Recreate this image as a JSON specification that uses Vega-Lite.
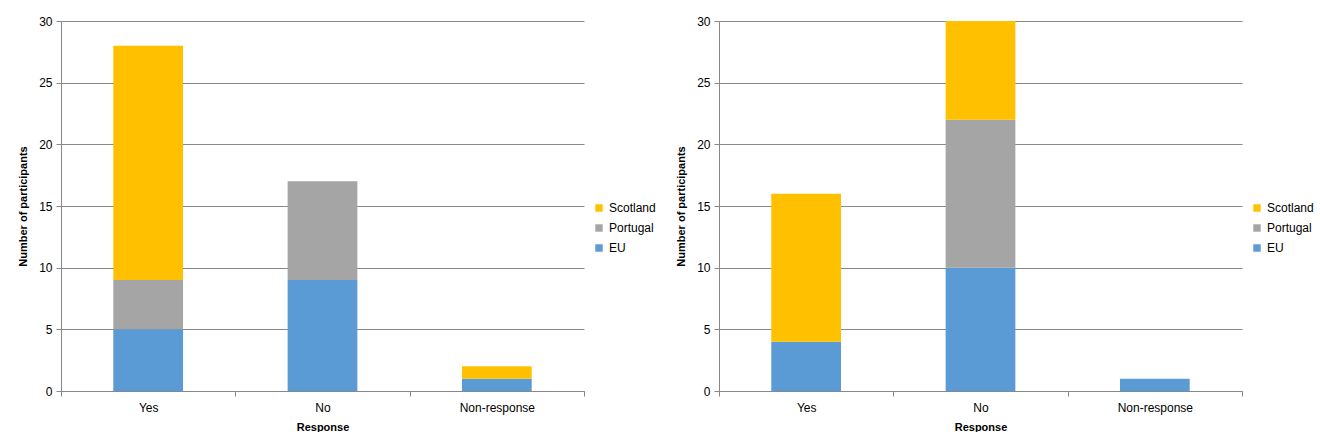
{
  "$schema": "https://vega.github.io/schema/vega-lite/v6.json",
  "padding": {"left": 17, "top": 15, "right": 0, "bottom": 0},
  "background": "white",
  "datasets": {
    "left": [
      {"response": "Yes", "group": "EU", "count": 5},
      {"response": "Yes", "group": "Portugal", "count": 4},
      {"response": "Yes", "group": "Scotland", "count": 19},
      {"response": "No", "group": "EU", "count": 9},
      {"response": "No", "group": "Portugal", "count": 8},
      {"response": "No", "group": "Scotland", "count": 0},
      {"response": "Non-response", "group": "EU", "count": 1},
      {"response": "Non-response", "group": "Portugal", "count": 0},
      {"response": "Non-response", "group": "Scotland", "count": 1}
    ],
    "right": [
      {"response": "Yes", "group": "EU", "count": 4},
      {"response": "Yes", "group": "Portugal", "count": 0},
      {"response": "Yes", "group": "Scotland", "count": 12},
      {"response": "No", "group": "EU", "count": 10},
      {"response": "No", "group": "Portugal", "count": 12},
      {"response": "No", "group": "Scotland", "count": 8},
      {"response": "Non-response", "group": "EU", "count": 1},
      {"response": "Non-response", "group": "Portugal", "count": 0},
      {"response": "Non-response", "group": "Scotland", "count": 0}
    ]
  },
  "spacing": 19,
  "resolve": {"scale": {"color": "independent"}, "legend": {"color": "independent"}},
  "config": {
    "font": "Liberation Sans",
    "view": {"stroke": null},
    "axis": {
      "labelFont": "Liberation Sans",
      "labelFontSize": 12,
      "labelColor": "#000000",
      "titleFont": "Liberation Sans",
      "titleFontSize": 11,
      "titleFontWeight": "bold",
      "titleColor": "#000000",
      "domainColor": "#888888",
      "tickColor": "#888888",
      "gridColor": "#888888",
      "tickSize": 5,
      "labelPadding": 4
    },
    "legend": {
      "labelFont": "Liberation Sans",
      "labelFontSize": 12,
      "labelColor": "#000000",
      "symbolType": "square",
      "symbolSize": 55,
      "symbolStrokeWidth": 0,
      "rowPadding": 8,
      "orient": "none",
      "legendX": 532,
      "legendY": 181,
      "title": null
    }
  },
  "hconcat": [
    {
      "data": {"name": "left"},
      "width": 523,
      "height": 370,
      "mark": {"type": "bar", "width": {"band": 0.4}},
      "encoding": {
        "x": {
          "field": "response", "type": "nominal", "sort": ["Yes", "No", "Non-response"],
          "scale": {"paddingInner": 0, "paddingOuter": 0},
          "axis": {"title": "Response", "labelAngle": 0, "tickBand": "extent", "titlePadding": 8, "labelPadding": 6}
        },
        "y": {
          "field": "count", "type": "quantitative", "aggregate": "sum",
          "scale": {"domain": [0, 30], "nice": false},
          "axis": {"title": "Number of participants", "values": [0, 5, 10, 15, 20, 25, 30], "grid": true, "titlePadding": 10}
        },
        "color": {
          "field": "group", "type": "nominal",
          "scale": {"domain": ["Scotland", "Portugal", "EU"], "range": ["#FFC000", "#A5A5A5", "#5B9BD5"]},
          "legend": {"title": null}
        },
        "order": {"field": "stackOrder", "type": "quantitative"}
      },
      "transform": [
        {"calculate": "datum.group === 'EU' ? 0 : (datum.group === 'Portugal' ? 1 : 2)", "as": "stackOrder"}
      ]
    },
    {
      "data": {"name": "right"},
      "width": 523,
      "height": 370,
      "mark": {"type": "bar", "width": {"band": 0.4}},
      "encoding": {
        "x": {
          "field": "response", "type": "nominal", "sort": ["Yes", "No", "Non-response"],
          "scale": {"paddingInner": 0, "paddingOuter": 0},
          "axis": {"title": "Response", "labelAngle": 0, "tickBand": "extent", "titlePadding": 8, "labelPadding": 6}
        },
        "y": {
          "field": "count", "type": "quantitative", "aggregate": "sum",
          "scale": {"domain": [0, 30], "nice": false},
          "axis": {"title": "Number of participants", "values": [0, 5, 10, 15, 20, 25, 30], "grid": true, "titlePadding": 10}
        },
        "color": {
          "field": "group", "type": "nominal",
          "scale": {"domain": ["Scotland", "Portugal", "EU"], "range": ["#FFC000", "#A5A5A5", "#5B9BD5"]},
          "legend": {"title": null}
        },
        "order": {"field": "stackOrder", "type": "quantitative"}
      },
      "transform": [
        {"calculate": "datum.group === 'EU' ? 0 : (datum.group === 'Portugal' ? 1 : 2)", "as": "stackOrder"}
      ]
    }
  ]
}
